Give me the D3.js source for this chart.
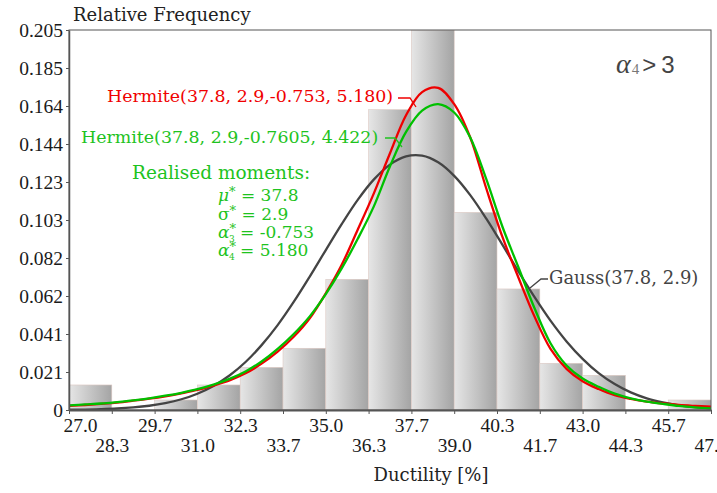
<!DOCTYPE html>
<html lang="en">
<head>
<meta charset="UTF-8">
<title>Ductility histogram with Hermite fits</title>
<style>
  body { margin: 0; background: #fff; }
  svg { display: block; }
  .lbl { font-family: 'DejaVu Serif', serif; }
</style>
</head>
<body>
<div id="chart"></div>
<script src="https://d3js.org/d3.v7.min.js"></script>
<script>
// histogram bins (Ductility %)
var binEdges = [27, 28.333, 29.667, 31, 32.333, 33.667, 35, 36.333, 37.667, 39, 40.333, 41.667, 43, 44.333, 45.667, 47];
var xTickLabels = ["27.0", "28.3", "29.7", "31.0", "32.3", "33.7", "35.0", "36.3", "37.7", "39.0", "40.3", "41.7", "43.0", "44.3", "45.7", "47.0"];
var relFreq = [0.0135, 0, 0.0054, 0.0135, 0.023, 0.0333, 0.0705, 0.162, 0.205, 0.1066, 0.0653, 0.0252, 0.0187, 0, 0.0054];

var yTicks = [0, 0.0205, 0.041, 0.0615, 0.082, 0.1025, 0.123, 0.1435, 0.164, 0.1845, 0.205];
var yTickLabels = ["0", "0.021", "0.041", "0.062", "0.082", "0.103", "0.123", "0.144", "0.164", "0.185", "0.205"];

// fitted densities
var curveX = [27, 27.5, 28, 28.5, 29, 29.5, 30, 30.5, 31, 31.5, 32, 32.5, 33, 33.5, 34, 34.5, 35, 35.5, 36, 36.5,
              37, 37.5, 38, 38.5, 39, 39.5, 40, 40.5, 41, 41.5, 42, 42.5, 43, 43.5, 44, 44.5, 45, 45.5, 46, 46.5, 47];
var gaussY = [0.00013, 0.00025, 0.00046, 0.0008, 0.00138, 0.00229, 0.0037, 0.00579, 0.0088, 0.013, 0.0186, 0.0259, 0.035, 0.0458,
              0.0583, 0.072, 0.0863, 0.1004, 0.1135, 0.1244, 0.1324, 0.1368, 0.1372, 0.1336, 0.1263, 0.1159, 0.1032, 0.0892,
              0.0748, 0.061, 0.0482, 0.037, 0.0276, 0.0199, 0.014, 0.0095, 0.0063, 0.0041, 0.0025, 0.0015, 0.0009];
var hermiteRedY = [0.0022, 0.0027, 0.0033, 0.004, 0.005, 0.0061, 0.0074, 0.009, 0.0108, 0.0132, 0.016, 0.0198, 0.025, 0.0315,
              0.0395, 0.0495, 0.063, 0.0785, 0.0975, 0.117, 0.1385, 0.159, 0.1715, 0.1738, 0.165, 0.147, 0.1195, 0.0935,
              0.0715, 0.0505, 0.033, 0.0222, 0.0155, 0.0113, 0.008, 0.006, 0.0045, 0.0035, 0.0027, 0.0022, 0.0018];
var hermiteGreenY = [0.0025, 0.003, 0.0035, 0.0043, 0.0052, 0.0063, 0.0077, 0.0093, 0.0112, 0.0137, 0.0168, 0.0208, 0.0262, 0.033,
              0.041, 0.0505, 0.0625, 0.0765, 0.0925, 0.11, 0.1315, 0.15, 0.1615, 0.165, 0.1605, 0.147, 0.1245, 0.099,
              0.077, 0.055, 0.036, 0.024, 0.017, 0.0125, 0.0088, 0.0063, 0.0045, 0.0033, 0.0022, 0.0014, 0.0009];

var W = 717, H = 493;
var margin = {top: 30, right: 6, bottom: 83, left: 69};

var svg = d3.select("#chart").append("svg")
    .attr("width", W)
    .attr("height", H);

var x = d3.scaleLinear().domain([27, 47]).range([margin.left, W - margin.right]);
var y = d3.scaleLinear().domain([0, 0.205]).range([H - margin.bottom, margin.top]);

var defs = svg.append("defs");
var grad = defs.append("linearGradient").attr("id", "barGrad")
    .attr("x1", "0%").attr("x2", "100%").attr("y1", "0%").attr("y2", "0%");
grad.append("stop").attr("offset", "0%").attr("stop-color", "#e6e6e6");
grad.append("stop").attr("offset", "100%").attr("stop-color", "#a4a4a4");

defs.append("clipPath").attr("id", "plotClip")
  .append("rect")
    .attr("x", x(27)).attr("y", y(0.205))
    .attr("width", x(47) - x(27)).attr("height", y(0) - y(0.205));

var plot = svg.append("g").attr("clip-path", "url(#plotClip)");

// bars
var bins = relFreq.map(function(f, i) { return {x0: binEdges[i], x1: binEdges[i + 1], f: f}; })
    .filter(function(d) { return d.f > 0; });

plot.selectAll(".bar")
    .data(bins)
    .enter().append("rect")
    .attr("class", "bar")
    .attr("x", function(d) { return x(d.x0); })
    .attr("y", function(d) { return y(d.f); })
    .attr("width", function(d) { return x(d.x1) - x(d.x0); })
    .attr("height", function(d) { return y(0) - y(d.f); })
    .attr("fill", "url(#barGrad)")
    .attr("stroke", "#dcc8c2")
    .attr("stroke-width", 0.6);

// curves
var line = d3.line()
    .x(function(d, i) { return x(curveX[i]); })
    .y(function(d) { return y(d); })
    .curve(d3.curveCatmullRom.alpha(0.5));

var series = [
    {vals: gaussY, color: "#444444"},
    {vals: hermiteRedY, color: "#ee0000"},
    {vals: hermiteGreenY, color: "#00c000"}
];
series.forEach(function(s) {
    plot.append("path")
        .attr("d", line(s.vals))
        .attr("fill", "none")
        .attr("stroke", s.color)
        .attr("stroke-width", 2.3);
});

// frame
svg.append("rect")
    .attr("x", x(27)).attr("y", y(0.205))
    .attr("width", x(47) - x(27)).attr("height", y(0) - y(0.205))
    .attr("fill", "none")
    .attr("stroke", "#555")
    .attr("stroke-width", 1);

// axes
var yAxis = svg.append("g")
    .attr("transform", "translate(" + margin.left + ",0)")
    .call(d3.axisLeft(y).tickValues(yTicks)
        .tickFormat(function(d, i) { return yTickLabels[i]; })
        .tickSize(3).tickSizeOuter(0).tickPadding(3));
yAxis.select(".domain").attr("stroke", "#555").attr("stroke-width", 1.5);
yAxis.selectAll(".tick line").attr("stroke", "#555");
yAxis.selectAll(".tick text")
    .style("font-family", "'Liberation Serif', serif")
    .style("font-size", "19.5px")
    .attr("fill", "#1a1a1a");

var xAxis = svg.append("g")
    .attr("transform", "translate(0," + (H - margin.bottom) + ")")
    .call(d3.axisBottom(x).tickValues(binEdges)
        .tickFormat(function(d, i) { return xTickLabels[i]; })
        .tickSize(4).tickSizeOuter(0));
xAxis.select(".domain").attr("stroke", "#555").attr("stroke-width", 2);
xAxis.selectAll(".tick line").attr("stroke", "#555");
xAxis.selectAll(".tick text")
    .style("font-family", "'Liberation Serif', serif")
    .style("font-size", "19.5px")
    .attr("fill", "#1a1a1a")
    .attr("dy", null)
    .attr("y", function(d, i) { return i % 2 === 0 ? 22 : 42; })
    .attr("x", function(d, i) { return i === 0 ? 11 : 0; });

// axis titles
svg.append("text")
    .attr("class", "lbl")
    .attr("x", 73).attr("y", 21)
    .style("font-size", "18px")
    .attr("fill", "#222")
    .text("Relative Frequency");

svg.append("text")
    .attr("class", "lbl")
    .attr("x", 431).attr("y", 481)
    .attr("text-anchor", "middle")
    .style("font-size", "18px")
    .attr("fill", "#222")
    .text("Ductility [%]");

// alpha4 > 3
var a4 = svg.append("text").attr("x", 616).attr("y", 73).attr("fill", "#444");
a4.append("tspan").style("font-family", "'Liberation Serif', serif").style("font-style", "italic")
    .style("font-size", "28px").text("α");
a4.append("tspan").style("font-family", "'Liberation Serif', serif").style("font-size", "15px")
    .attr("fill", "#777").attr("dx", 1).attr("dy", 1).text("4");
a4.append("tspan").style("font-family", "'Liberation Sans', sans-serif").style("font-size", "24px")
    .attr("dy", -1).attr("dx", 3).text(">");
a4.append("tspan").style("font-family", "'Liberation Sans', sans-serif").style("font-size", "24px")
    .attr("dx", 5).text("3");

// curve labels with leaders
function label(txt, tx, ty, color, size, leader) {
    svg.append("text")
        .attr("class", "lbl")
        .attr("x", tx).attr("y", ty)
        .attr("fill", color)
        .style("font-size", size + "px")
        .text(txt);
    svg.append("path")
        .attr("d", d3.line()(leader))
        .attr("fill", "none")
        .attr("stroke", color)
        .attr("stroke-width", 1.3);
}
label("Hermite(37.8, 2.9,-0.753, 5.180)", 107, 102, "#f00000", 17.4, [[398, 98], [410, 98], [416, 107]]);
label("Hermite(37.8, 2.9,-0.7605, 4.422)", 81, 143, "#1ec31e", 17.4, [[385, 138], [395, 138], [402, 147]]);
label("Gauss(37.8, 2.9)", 549, 284, "#444", 18, [[548, 279], [541, 279], [530, 288]]);

// realised moments
var green = "#1ec31e";
svg.append("text")
    .attr("class", "lbl")
    .attr("x", 132).attr("y", 179)
    .attr("fill", green)
    .style("font-size", "18.5px")
    .text("Realised moments:");

var moments = [
    {sym: "μ", sub: "", val: "37.8", y: 201},
    {sym: "σ", sub: "", val: "2.9", y: 220},
    {sym: "α", sub: "3", val: "-0.753", y: 238},
    {sym: "α", sub: "4", val: "5.180", y: 256}
];
moments.forEach(function(m) {
    var t = svg.append("text")
        .attr("x", 218).attr("y", m.y)
        .attr("fill", green)
        .style("font-family", "'DejaVu Serif', serif")
        .style("font-size", "17px");
    t.append("tspan").style("font-style", m.sym === "σ" ? "normal" : "italic").text(m.sym);
    t.append("tspan").attr("dy", -5).style("font-size", "13px").text("*");
    if (m.sub) {
        t.append("tspan").attr("dx", -7).attr("dy", 9).style("font-size", "9px").text(m.sub);
        t.append("tspan").attr("dy", -4).text(" = " + m.val);
    } else {
        t.append("tspan").attr("dy", 5).text(" = " + m.val);
    }
});
</script>
</body>
</html>
